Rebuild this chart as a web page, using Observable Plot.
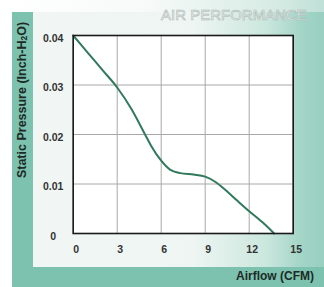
<!DOCTYPE html>
<html>
<head>
<meta charset="utf-8">
<script src="https://cdn.jsdelivr.net/npm/d3@7"></script>
<script src="https://cdn.jsdelivr.net/npm/@observablehq/plot@0.6"></script>
<style>
  html, body { margin: 0; padding: 0; background: #ffffff; }
  #wrap { position: relative; width: 324px; height: 287px; overflow: hidden;
    background: linear-gradient(to right, #ffffff 0%, #f7faf9 45%, #d6ebe4 85%, #bfe0d6 100%); }
  .bg { position: absolute; }
  #panel { left: 33px; top: 12px; width: 291px; height: 256px;
    background: linear-gradient(to right, #f1f6f4 0%, #eef5f2 55%, #cbe7de 80%, #a4d5c7 92%, #98cfbf 100%); }
  #leftband { left: 12px; top: 12px; width: 21px; height: 275px; background: #7cc2ae; }
  #bottomband { left: 12px; top: 267px; width: 312px; height: 20px; background: #7cc2ae; }
  #chart { position: absolute; left: 0; top: 0; }
  #title { position: absolute; left: 161px; top: 6px; white-space: nowrap;
    font-family: "Liberation Sans", Arial, sans-serif; font-size: 15px; letter-spacing: 0px;
    color: #f4f7f6; -webkit-text-stroke: 0.6px #aab6b2; }
  #ylabel { position: absolute; left: 22px; top: 100px; white-space: nowrap;
    transform: translate(-50%, -50%) rotate(-90deg);
    font-family: "Liberation Sans", Arial, sans-serif; font-weight: bold; font-size: 12.5px; color: #1e2a26; }
  #ylabel sub { font-size: 8.5px; vertical-align: -1px; }
  #xlabel { position: absolute; right: 10px; top: 269px; white-space: nowrap;
    font-family: "Liberation Sans", Arial, sans-serif; font-weight: bold; font-size: 12px; color: #1e2a26; }
  #chart svg g[aria-label$="axis tick label"] text { font-size: 10.5px; }
</style>
</head>
<body>
<div id="wrap">
  <div class="bg" id="panel"></div>
  <div class="bg" id="leftband"></div>
  <div class="bg" id="bottomband"></div>
  <div id="chart"></div>
  <div id="title">AIR PERFORMANCE</div>
  <div id="ylabel">Static Pressure (Inch-H<sub>2</sub>O)</div>
  <div id="xlabel">Airflow (CFM)</div>
</div>
<script>
const airflow  = [0, 1, 2, 3, 4, 4.9, 5.3, 6, 6.6, 7.3, 8.2, 9, 9.7, 10.3, 11.2, 12, 13, 13.7];
const pressure = [0.04, 0.0365, 0.033, 0.0295, 0.025, 0.02, 0.0178, 0.0147, 0.0129, 0.0122, 0.0119, 0.0115, 0.0104, 0.009, 0.0066, 0.0045, 0.002, 0];
const xTicks = [0, 3, 6, 9, 12, 15];
const yTicks = [0, 0.01, 0.02, 0.03, 0.04];
const yTickLabels = ["0", "0.01", "0.02", "0.03", "0.04"];

const data = airflow.map((x, i) => ({x, y: pressure[i]}));

const chart = Plot.plot({
  width: 324,
  height: 287,
  marginLeft: 72.7,
  marginRight: 31.3,
  marginTop: 35,
  marginBottom: 54,
  style: { background: "transparent", fontFamily: "Liberation Sans, Arial, sans-serif", fontSize: "10.5px" },
  x: { domain: [0, 15] },
  y: { domain: [0, 0.04] },
  marks: [
    Plot.frame({ fill: "#ffffff" }),
    Plot.ruleX(xTicks, { stroke: "#a8a8a8", strokeWidth: 1 }),
    Plot.ruleY(yTicks, { stroke: "#a8a8a8", strokeWidth: 1 }),
    Plot.line(data, { x: "x", y: "y", stroke: "#2f7a5a", strokeWidth: 2, curve: "monotone-x" }),
    Plot.frame({ stroke: "#1a1a1a", strokeWidth: 1.6 }),
    Plot.axisX({ ticks: xTicks, tickSize: 0, tickPadding: 12, dx: 3, fontSize: 10.5, fontWeight: "bold", fill: "#333", label: null }),
    Plot.axisY({ ticks: yTicks, tickFormat: (d, i) => yTickLabels[i], tickSize: 0, tickPadding: 20, textAnchor: "middle", dy: 3, fontSize: 10.5, fontWeight: "bold", fill: "#333", label: null })
  ]
});
document.getElementById("chart").appendChild(chart);
</script>
</body>
</html>
